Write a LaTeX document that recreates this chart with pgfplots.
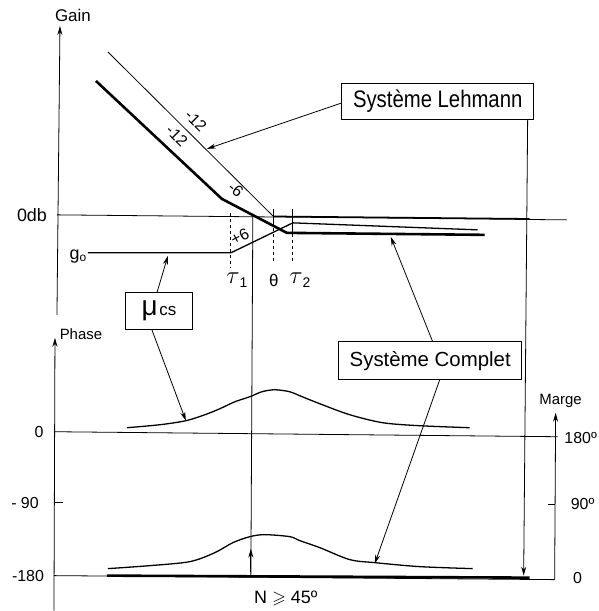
\documentclass[border=0pt]{standalone}
\usepackage{pgfplots}
\pgfplotsset{compat=1.18}
\usepackage{amssymb}
\usepackage{fontspec}
\setmainfont{Liberation Sans}
\newfontfamily\narrow{Liberation Sans}[FakeStretch=0.85]
\usetikzlibrary{arrows.meta}
\tikzset{
  ln/.style={line width=0.8pt},
  thk/.style={line width=2.6pt},
  med/.style={line width=1.3pt},
  arr/.style={-{Stealth[length=9pt,width=5pt]}},
  lbl/.style={inner sep=0pt,anchor=center,text=black}}
\begin{document}
\begin{tikzpicture}
\begin{axis}[width=599bp,height=611bp,scale only axis,
  xmin=0,xmax=599,ymin=0,ymax=611,y dir=reverse,hide axis,clip=false,
  every axis plot/.append style={black,no markers}]
% frame of the picture (invisible)
\addplot[draw=none] coordinates {(0,0) (599,611)};
\path (0,0) rectangle (599,611);
% --- axes
\addplot[ln,arr] coordinates {(57,315) (60,26)};
\addplot[ln,arr] coordinates {(54,611) (55,338)};
\addplot[ln,arr] coordinates {(555,580) (556,413)};
% 0 dB line
\addplot[ln] coordinates {(57,215) (567,220)};
% phase 0 / 180 line
\addplot[ln] coordinates {(54,432) (558,437)};
% -180 / 0 margin line
\addplot[ln] coordinates {(54,576) (555,580)};
% ticks
\addplot[ln] coordinates {(54,503) (63,503)};
\addplot[ln] coordinates {(548,505) (555,505)};
% --- Lehmann system (thin)
\addplot[ln] coordinates {(108,52) (273,216)};
\addplot[line width=1.5pt] coordinates {(273,216.5) (530,219)};
% --- complete system gain (thick)
\addplot[thk] coordinates {(96,81) (222,199) (287,233) (485,235)};
% --- mu cs gain
\addplot[med] coordinates {(88,253) (231,253) (293,223) (478,230)};
% --- dashed markers
\addplot[ln,dashed] coordinates {(231,213) (231,268)};
\addplot[ln] coordinates {(274,209) (274,222)};
\addplot[ln,dashed] coordinates {(274,222) (274,262)};
\addplot[ln] coordinates {(293,209) (293,234)};
\addplot[ln,dashed] coordinates {(293,234) (293,262)};
% --- N vertical line
\addplot[ln] coordinates {(253,216) (251,577)};
\addplot[ln,arr] coordinates {(251,572) (251,549)};
% --- margin vertical line from Lehmann box
\addplot[ln,arr] coordinates {(528,119) (524,576)};
% --- phase curves
\addplot[med,smooth] coordinates {(127,428) (160,425) (186,421) (205,415) (220,409) (235,402) (250,397) (262,392) (275,390) (290,392) (300,396) (320,404) (350,415) (383,423) (420,426) (470,428)};
\addplot[med,smooth] coordinates {(108,569) (150,566) (190,562) (215,553) (233,543) (250,537) (265,535) (290,537) (300,541) (320,548) (350,560) (375,563) (420,567) (473,569)};
\addplot[thk] coordinates {(107,576) (530,578)};
% --- arrows from boxes
\addplot[ln,arr] coordinates {(342,103) (207,149)};
\addplot[ln,arr] coordinates {(433,342) (391,237)};
\addplot[ln,arr] coordinates {(440,380) (375,564)};
\addplot[ln,arr] coordinates {(157,293) (168,256)};
\addplot[ln,arr] coordinates {(152,330) (186,421)};
% --- boxes
\node[draw,line width=0.8pt,minimum width=192bp,minimum height=36bp,inner sep=0pt,fill=white] at (438,101)
  {\narrow\fontsize{24}{28}\selectfont Système Lehmann};
\node[draw,line width=0.8pt,minimum width=183bp,minimum height=38bp,inner sep=0pt,fill=white] at (430.5,361)
  {\fontsize{20.5}{24}\selectfont Système Complet};
\node[draw,line width=0.8pt,minimum width=68bp,minimum height=37bp,inner sep=0pt,fill=white] at (159,311.5)
  {{\fontsize{28}{30}\selectfont μ}\,{\fontsize{17}{20}\selectfont cs}};
% --- labels
\node[lbl,font={\fontsize{17}{20}\selectfont}] at (73,15) {Gain};
\node[lbl,font={\fontsize{18}{20}\selectfont}] at (32,215) {0db};
\node[lbl,font={\fontsize{18}{20}\selectfont}] at (78,257) {g\raisebox{-2pt}{\fontsize{12}{14}\selectfont o}};
\node[lbl,font={\fontsize{15}{18}\selectfont}] at (81,334) {Phase};
\node[lbl,font={\fontsize{16}{18}\selectfont}] at (39,432) {0};
\node[lbl,font={\fontsize{16}{18}\selectfont}] at (25,503) {- 90};
\node[lbl,font={\fontsize{16}{18}\selectfont}] at (28,576) {-180};
\node[lbl,font={\fontsize{15}{18}\selectfont}] at (561,401) {Marge};
\node[lbl,font={\fontsize{16}{18}\selectfont}] at (581,438) {180º};
\node[lbl,font={\fontsize{16}{18}\selectfont}] at (583,504) {90º};
\node[lbl,font={\fontsize{16}{18}\selectfont}] at (578,578) {0};
\node[lbl,font={\fontsize{18}{20}\selectfont}] at (286,599) {N $\geqslant$ 45º};
\node[lbl] at (237,280) {{\fontsize{26}{28}\selectfont$\tau$}\raisebox{-4pt}{\fontsize{14}{16}\selectfont 1}};
\node[lbl,font={\fontsize{17}{20}\selectfont}] at (274,281) {θ};
\node[lbl] at (300,280) {{\fontsize{26}{28}\selectfont$\tau$}\raisebox{-4pt}{\fontsize{14}{16}\selectfont 2}};
\node[lbl,font={\fontsize{16}{18}\selectfont},rotate=-45] at (196,121) {-12};
\node[lbl,font={\fontsize{16}{18}\selectfont},rotate=-45] at (177,136) {-12};
\node[lbl,font={\fontsize{16}{18}\selectfont},rotate=-40] at (236,190) {-6};
\node[lbl,font={\fontsize{16}{18}\selectfont},rotate=27] at (240,237) {+6};
\end{axis}
\end{tikzpicture}
\end{document}
